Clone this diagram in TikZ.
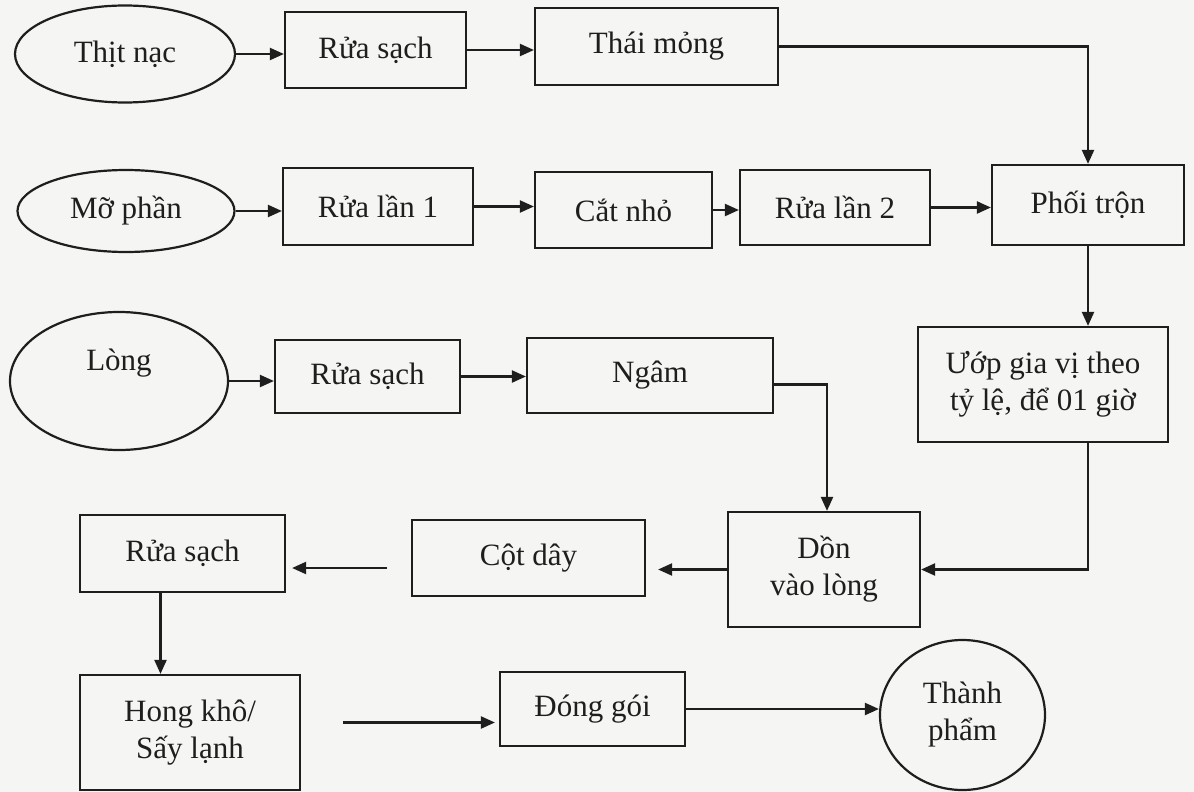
\documentclass[tikz,border=0pt]{standalone}
\usepackage{fontspec}
\setmainfont{Liberation Serif}
\usetikzlibrary{shapes.geometric,arrows.meta}
\definecolor{paper}{RGB}{245,245,243}
\definecolor{ink}{RGB}{30,30,30}
\tikzset{
  box/.style={draw=ink, line width=1.1pt, rectangle, inner sep=2pt, align=center, text=ink, font=\fontsize{15.5}{18.5}\selectfont},
  oval/.style={draw=ink, line width=1.1pt, ellipse, inner sep=0pt, align=center, text=ink, font=\fontsize{15.5}{18.5}\selectfont},
  arr/.style={draw=ink, line width=1.1pt, -{Triangle[length=7pt,width=6pt]}},
  ln/.style={draw=ink, line width=1.1pt}
}
\begin{document}
\begin{tikzpicture}[x=0.5pt,y=-0.5pt]
\fill[paper] (0,0) rectangle (1194,792);
\useasboundingbox (0,0) rectangle (1194,792);
% row 1
\node[oval, minimum width=110pt, minimum height=48.5pt] (tm) at (125,54) {Thịt nạc};
\node[box, minimum width=90.5pt, minimum height=38pt] (r1) at (375.5,50) {Rửa sạch};
\node[box, minimum width=121.5pt, minimum height=38.5pt] (thai) at (656.5,46.5) {Thái mỏng};
% row 2
\node[oval, minimum width=108.5pt, minimum height=41pt] (mp) at (126,211) {Mỡ phần};
\node[box, minimum width=95pt, minimum height=38.5pt] (rl1) at (378,206.5) {Rửa lần 1};
\node[box, minimum width=88.5pt, minimum height=38pt] (cn) at (623.5,210) {Cắt nhỏ};
\node[box, minimum width=95pt, minimum height=37.5pt] (rl2) at (835,207.5) {Rửa lần 2};
\node[box, minimum width=96pt, minimum height=40pt] (pt) at (1088,205) {Phối trộn};
% row 3
\node[oval, minimum width=109pt, minimum height=69pt,
  label={[yshift=9pt, text=ink, font=\fontsize{15.5}{18.5}\selectfont]center:Lòng}] (long) at (119,381) {};
\node[box, minimum width=92.5pt, minimum height=36.5pt] (rs3) at (367.5,376.5) {Rửa sạch};
\node[box, minimum width=123pt, minimum height=37.5pt] (ngam) at (650,375.5) {Ngâm};
\node[box, minimum width=125pt, minimum height=57.5pt] (uop) at (1043,384.5) {Ướp gia vị theo\\tỷ lệ, để 01 giờ};
% row 4
\node[box, minimum width=102.5pt, minimum height=38.5pt] (rs4) at (182.5,553.5) {Rửa sạch};
\node[box, minimum width=116.5pt, minimum height=38pt] (cot) at (528.5,558) {Cột dây};
\node[box, minimum width=96pt, minimum height=57.5pt] (don) at (824,569.5) {Dồn\\vào lòng};
% row 5
\node[box, minimum width=110pt, minimum height=57.5pt] (hong) at (190,732.5) {Hong khô/\\Sấy lạnh};
\node[box, minimum width=92.5pt, minimum height=37pt] (dong) at (592.5,709) {Đóng gói};
\node[oval, minimum width=82.5pt, minimum height=75pt] (thanh) at (962.5,715) {Thành\\phẩm};
% connectors
\draw[arr] (tm.east) -- (tm.east -| r1.west);
\draw[arr] (r1.east) -- (r1.east -| thai.west);
\draw[arr] (thai.east) -| (pt.north);
\draw[arr] (mp.east) -- (mp.east -| rl1.west);
\draw[arr] (rl1.east) -- (rl1.east -| cn.west);
\draw[arr] (cn.east) -- (cn.east -| rl2.west);
\draw[arr] (rl2.east) -- (rl2.east -| pt.west);
\draw[arr] (pt.south) -- (pt.south |- uop.north);
\draw[arr] (long.east) -- (long.east -| rs3.west);
\draw[arr] (rs3.east) -- (rs3.east -| ngam.west);
\draw[arr] ([yshift=-4.5pt]ngam.east) -| ([xshift=1.5pt]don.north);
\draw[arr] (pt.south |- uop.south) |- (don.east);
\draw[arr, shorten >=6pt] (don.west) -- (don.west -| cot.east);
\draw[arr, shorten <=12pt, shorten >=3pt] ([yshift=-5pt]cot.west) -- ([yshift=-5pt]cot.west -| rs4.east);
\draw[arr] ([xshift=-11pt]rs4.south) -- ([xshift=-11pt]rs4.south |- hong.north);
\draw[arr, shorten <=21pt, shorten >=2pt] ([yshift=5pt]hong.east) -- ([yshift=5pt]hong.east -| dong.west);
\draw[arr] (dong.east) -- (dong.east -| thanh.west);
\end{tikzpicture}
\end{document}
